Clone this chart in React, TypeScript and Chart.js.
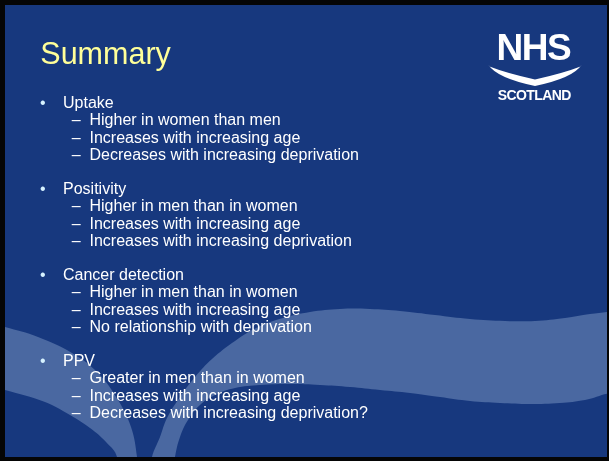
import React, { useEffect, useRef } from "react";
import { Chart, registerables } from "chart.js";

Chart.register(...registerables);

// ---- Slide text ----
const titleText = "Summary";
const sectionHeads = ["Uptake", "Positivity", "Cancer detection", "PPV"];
const uptakeItems = [
  "Higher in women than men",
  "Increases with increasing age",
  "Decreases with increasing deprivation",
];
const positivityItems = [
  "Higher in men than in women",
  "Increases with increasing age",
  "Increases with increasing deprivation",
];
const cancerItems = [
  "Higher in men than in women",
  "Increases with increasing age",
  "No relationship with deprivation",
];
const ppvItems = [
  "Greater in men than in women",
  "Increases with increasing age",
  "Decreases with increasing deprivation?",
];
const sectionItems = [uptakeItems, positivityItems, cancerItems, ppvItems];
const logoWord = "NHS";
const logoSub = "SCOTLAND";

// ---- Decorative background outlines (slide pixel space) ----
const leftArcOutline: [number, number][] = [
  [-30, 318], [5, 327], [38, 337], [72, 353], [98, 373], [118, 400], [131, 427], [137, 457], [138, 480],
  [115, 480], [117, 457], [106, 442], [90, 428], [70, 415], [45, 402], [5, 390], [-30, 380],
];
const waveOutline: [number, number][] = [
  [149, 480], [152, 457], [160, 437], [167, 418], [180, 397], [195, 377], [212, 359], [235, 341],
  [258, 327], [283, 318], [310, 312], [340, 309], [370, 309], [400, 311], [435, 315], [470, 319],
  [505, 321], [535, 321], [565, 318], [590, 314], [615, 311], [660, 305],
  [660, 400], [615, 393], [585, 400], [560, 403], [530, 404], [500, 403], [470, 401], [440, 397],
  [410, 393], [380, 390], [350, 387], [320, 385], [290, 384], [260, 385], [235, 388], [215, 395],
  [200, 405], [188, 420], [180, 437], [175, 457], [172, 480],
];

const BLACK = "#050505";
const SLIDE_BLUE = "#17387E";
const SWOOSH = "#4A68A1";
const TEXT = "#FFFFFF";
const TITLE = "#FFFF99";
const BULLET = "#D6F2FF";
const FONT = '"Liberation Sans", Arial, Helvetica, sans-serif';

const bgPlugin = {
  id: "slideBg",
  beforeDraw(chart: any) {
    const { ctx, chartArea } = chart;
    ctx.save();
    ctx.fillStyle = BLACK;
    ctx.fillRect(0, 0, chart.width, chart.height);
    ctx.fillStyle = SLIDE_BLUE;
    ctx.fillRect(chartArea.left, chartArea.top, chartArea.right - chartArea.left, chartArea.bottom - chartArea.top);
    ctx.restore();
  },
  afterDatasetsDraw(chart: any) {
    const { ctx } = chart;
    const xs = chart.scales.x;
    const ys = chart.scales.y;
    const X = (v: number) => xs.getPixelForValue(v);
    const Y = (v: number) => ys.getPixelForValue(v);
    ctx.save();
    ctx.fillStyle = "#FFFFFF";
    ctx.beginPath();
    ctx.moveTo(X(488.5), Y(65));
    ctx.quadraticCurveTo(X(497), Y(78), X(535), Y(86));
    ctx.quadraticCurveTo(X(573), Y(78), X(581.5), Y(65));
    ctx.lineTo(X(580.5), Y(66.5));
    ctx.quadraticCurveTo(X(564), Y(73), X(535), Y(79.5));
    ctx.quadraticCurveTo(X(506), Y(73), X(489.5), Y(66.5));
    ctx.closePath();
    ctx.fill();
    ctx.restore();
  },
};

function shapeDataset(points: [number, number][]) {
  return {
    data: points.map(([x, y]) => ({ x, y })),
    showLine: true,
    fill: "shape",
    backgroundColor: SWOOSH,
    borderColor: "rgba(0,0,0,0)",
    borderWidth: 0,
    pointRadius: 0,
    pointHoverRadius: 0,
    tension: 0.4,
  };
}

const LINE_H = 17.2;
const FIRST_TOP = 94.15;

export default function App() {
  const ref = useRef<HTMLCanvasElement | null>(null);

  useEffect(() => {
    if (!ref.current) return;
    const chart = new Chart(ref.current, {
      type: "scatter",
      data: { datasets: [shapeDataset(leftArcOutline), shapeDataset(waveOutline)] as any },
      options: {
        animation: false,
        responsive: false,
        maintainAspectRatio: false,
        events: [],
        layout: { padding: { left: 5, top: 5, right: 2, bottom: 4 } },
        scales: {
          x: { type: "linear", min: 5, max: 607, display: false },
          y: { type: "linear", min: 5, max: 457, reverse: true, display: false },
        },
        elements: { line: { capBezierPoints: false } as any },
        plugins: { legend: { display: false }, tooltip: { enabled: false }, title: { display: false } },
      } as any,
      plugins: [bgPlugin],
    });
    return () => chart.destroy();
  }, []);

  const lines: React.ReactNode[] = [];
  sectionHeads.forEach((head, s) => {
    const base = s * 5;
    lines.push(
      <div key={"h" + s} style={{ position: "absolute", top: FIRST_TOP + LINE_H * base, left: 0, height: LINE_H, lineHeight: LINE_H + "px", fontSize: 16, whiteSpace: "nowrap" }}>
        <span style={{ position: "absolute", left: 40, color: BULLET }}>•</span>
        <span style={{ position: "absolute", left: 63, color: TEXT }}>{head}</span>
      </div>
    );
    sectionItems[s].forEach((item, i) => {
      lines.push(
        <div key={"i" + s + "-" + i} style={{ position: "absolute", top: FIRST_TOP + LINE_H * (base + 1 + i), left: 0, height: LINE_H, lineHeight: LINE_H + "px", fontSize: 16, whiteSpace: "nowrap" }}>
          <span style={{ position: "absolute", left: 71.7, color: TEXT }}>–</span>
          <span style={{ position: "absolute", left: 89.5, color: TEXT }}>{item}</span>
        </div>
      );
    });
  });

  return (
    <div style={{ position: "fixed", left: 0, top: 0, width: 609, height: 461, background: BLACK, overflow: "hidden", fontFamily: FONT }}>
      <canvas ref={ref} width={609} height={461} style={{ position: "absolute", left: 0, top: 0, width: 609, height: 461, display: "block" }} />
      <div style={{ position: "absolute", left: 40.3, top: 37.5, fontSize: 30.5, lineHeight: "30.5px", color: TITLE, whiteSpace: "nowrap" }}>{titleText}</div>
      <div style={{ position: "absolute", left: 496.6, top: 28.7, fontSize: 37, lineHeight: "37px", fontWeight: 700, letterSpacing: "-1.5px", color: "#FFFFFF", whiteSpace: "nowrap" }}>{logoWord}</div>
      <div style={{ position: "absolute", left: 497.7, top: 88.1, fontSize: 14, lineHeight: "14px", fontWeight: 700, letterSpacing: "-0.6px", color: "#FFFFFF", whiteSpace: "nowrap" }}>{logoSub}</div>
      {lines}
    </div>
  );
}
